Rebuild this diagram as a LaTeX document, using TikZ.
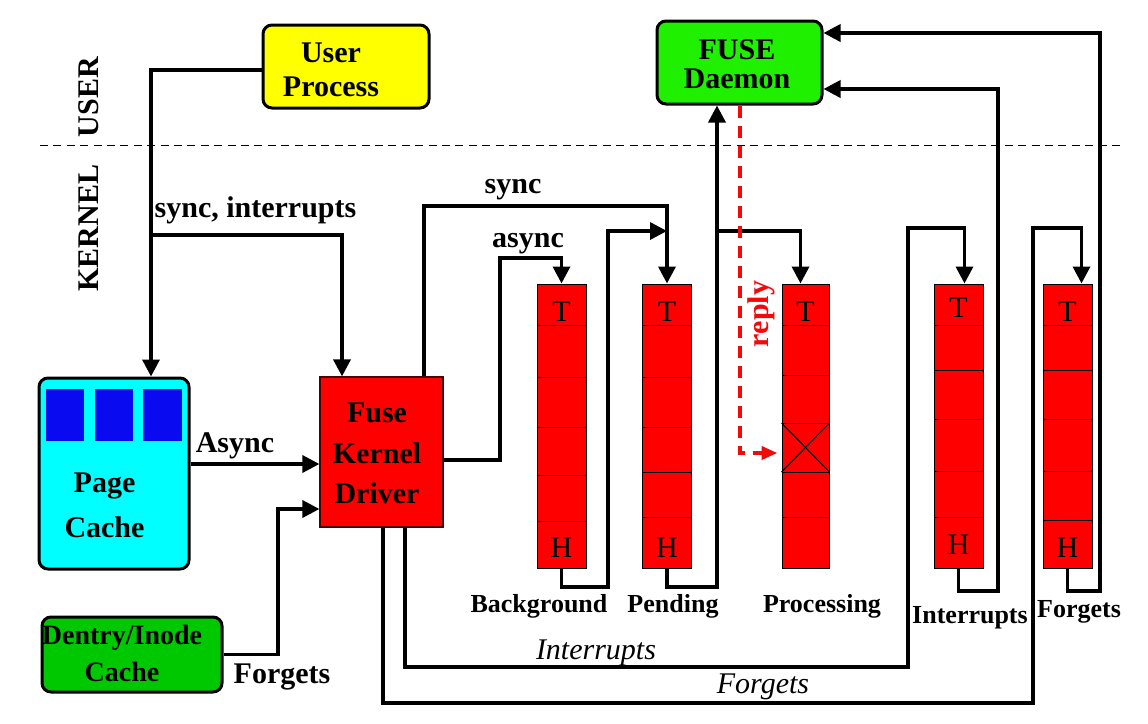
\documentclass[tikz,border=0pt]{standalone}
\usepackage{fontspec}
\setmainfont{Liberation Serif}
\usetikzlibrary{arrows.meta,calc}
\definecolor{uyellow}{RGB}{255,255,0}
\definecolor{fgreen}{RGB}{30,240,0}
\definecolor{dgreen}{RGB}{0,200,0}
\definecolor{pcyan}{RGB}{0,255,255}
\definecolor{pblue}{RGB}{10,10,240}
\definecolor{qred}{RGB}{255,0,0}
\definecolor{rred}{RGB}{240,10,10}
\begin{document}
\begin{tikzpicture}[x=0.5pt,y=-0.5pt,
  conn/.style={line width=1.75pt,-{Triangle[length=8.5pt,width=8.5pt]}},
  replyline/.style={draw=rred,line width=2pt,dash pattern=on 6pt off 4pt,-{Triangle[length=8pt,width=6.5pt]}},
  rbox/.style={draw=black,line width=1.5pt,rounded corners=4.5pt,inner sep=0pt},
  queue/.style={draw=black,line width=0.5pt,fill=qred,minimum width=24.5pt,minimum height=142pt,inner sep=0pt},
  cell/.style={line width=0.5pt},
  lab/.style={font=\bfseries\fontsize{15}{17}\selectfont,inner sep=0pt},
  slab/.style={font=\bfseries\fontsize{13}{15}\selectfont,inner sep=0pt},
  ilab/.style={font=\itshape\fontsize{15}{17}\selectfont,inner sep=0pt},
  qlab/.style={font=\fontsize{15}{17}\selectfont,inner sep=0pt},
]
\useasboundingbox (0,0) rectangle (1148,724);

% separator
\coordinate (sepL) at (40,145);
\coordinate (sepR) at (1120,145);
\draw[line width=0.5pt,dash pattern=on 4pt off 2.7pt] (sepL) -- (sepR);
\node[lab,rotate=90] (luser) at (88.5,97) {USER};
\node[lab,rotate=90] (lkernel) at (89,228) {KERNEL};

% boxes
\node[rbox,fill=uyellow,minimum width=83pt,minimum height=41.5pt] (user) at (346,66.5) {};
\node[lab,align=center,font=\bfseries\fontsize{15}{17}\selectfont] (usertxt) at (331,70) {User\\Process};

\node[rbox,fill=fgreen,minimum width=82.5pt,minimum height=41.5pt] (fuse) at (739.5,62.5) {};
\node[lab,align=center,font=\bfseries\fontsize{15}{14.7}\selectfont] (fusetxt) at (737,64) {FUSE\\Daemon};

\node[rbox,fill=pcyan,minimum width=75pt,minimum height=95.5pt] (pc) at (114,473.5) {};
\node[fill=pblue,minimum width=19pt,minimum height=26pt,inner sep=0pt] (pb1) at (65,415) {};
\node[fill=pblue,minimum width=19pt,minimum height=26pt,inner sep=0pt] (pb2) at (114,415) {};
\node[fill=pblue,minimum width=19.5pt,minimum height=26pt,inner sep=0pt] (pb3) at (162.5,415) {};
\node[lab,align=center,font=\bfseries\fontsize{15}{22.5}\selectfont] (pctxt) at (104.5,505.5) {Page\\Cache};

\node[draw=black!70!red,line width=0.6pt,fill=qred,minimum width=61.5pt,minimum height=75pt,inner sep=0pt] (drv) at (381.5,452) {};
\node[lab,align=center,font=\bfseries\fontsize{15}{20.25}\selectfont] (drvtxt) at (377,453.5) {Fuse\\Kernel\\Driver};

\node[rbox,fill=dgreen,minimum width=90pt,minimum height=37.5pt] (dc) at (132,654.5) {};
\node[lab,align=center,font=\bfseries\fontsize{14}{18.5}\selectfont] (dctxt) at (122,653.5) {Dentry/Inode\\Cache};

% queues
\node[queue] (bg) at (561.5,426) {};
\node[queue] (pend) at (667,426) {};
\node[queue,minimum width=23.5pt] (proc) at (805.5,426) {};
\node[queue] (intr) at (958.5,426) {};
\node[queue] (forg) at (1067.5,426) {};
\foreach \yy in {325,377,427,475,521} \draw[cell] (bg.west |- 0,\yy) -- (bg.east |- 0,\yy);
\foreach \yy in {325,377,427,472,517} \draw[cell] (pend.west |- 0,\yy) -- (pend.east |- 0,\yy);
\foreach \yy in {325,375,423,472,517} \draw[cell] (proc.west |- 0,\yy) -- (proc.east |- 0,\yy);
\foreach \yy in {325,370,419,471,517} \draw[cell] (intr.west |- 0,\yy) -- (intr.east |- 0,\yy);
\foreach \yy in {325,370,419,471,520} \draw[cell] (forg.west |- 0,\yy) -- (forg.east |- 0,\yy);
\draw[cell] (proc.west |- 0,423) -- (proc.east |- 0,472);
\draw[cell] (proc.west |- 0,472) -- (proc.east |- 0,423);

\node[qlab] (bgT) at (561.5,312) {T};
\node[qlab] (bgH) at (561.5,548) {H};
\node[qlab] (pendT) at (667,312) {T};
\node[qlab] (pendH) at (667,548) {H};
\node[qlab] (procT) at (805.5,312) {T};
\node[qlab] (intrT) at (958.5,308) {T};
\node[qlab] (intrH) at (958.5,545) {H};
\node[qlab] (forgT) at (1067.5,312) {T};
\node[qlab] (forgH) at (1067.5,548) {H};

% queue labels
\node[slab,anchor=base] (lbg) at (539,612) {Background};
\node[slab,anchor=base] (lpend) at (673,612) {Pending};
\node[slab,anchor=base] (lproc) at (822,612) {Processing};
\node[slab,anchor=base] (lintr) at (970,623) {Interrupts};
\node[slab,anchor=base] (lforg) at (1079,617) {Forgets};

% connectors
\coordinate (j1) at (151,235);
\draw[conn] (user.west |- 0,70) -| (pc.north -| j1);
\draw[conn] (j1) -| ($(drv.north)+(-39.5,0)$);
\node[lab,anchor=base] (lsi) at (255.5,217) {sync, interrupts};

\draw[conn] (pc.east |- 0,464) -- (drv.west |- 0,464);
\node[lab,anchor=base] (lAsync) at (235,452) {Async};

\draw[conn] (dc.east) -| (278,509) -- (drv.west |- 0,509);
\node[lab,anchor=base] (lForg1) at (282,683) {Forgets};

\draw[conn] (drv.north -| 424,0) |- (pend.north |- 0,206) -- (pend.north);
\node[lab,anchor=base] (lsync) at (513,193) {sync};

\draw[conn] (drv.east |- 0,460) -| (500,258) -| (bg.north);
\node[lab,anchor=base] (lasync) at (528,247) {async};

\draw[conn] (bg.south) |- (608,587) |- (pend.north |- 0,231);

\coordinate (j2) at (717,231);
\draw[conn] (pend.south) |- (717,587) -- (fuse.south -| 717,0);
\draw[conn] (j2) -| ($(proc.north)+(-5,0)$);

\draw[replyline] (fuse.south -| 740,0) |- ($(proc.west |- 0,453)+(-4,0)$);
\node[lab,text=rred,rotate=90] (lreply) at (761,314) {reply};

\draw[conn] (drv.south -| 405,0) |- (908,667) -- (908,228) -| ($(intr.north)+(6,0)$);
\node[ilab,anchor=base] (lint2) at (596,659) {Interrupts};

\draw[conn] (drv.south -| 383,0) |- (1033,703) -- (1033,228) -| ($(forg.north)+(14,0)$);
\node[ilab,anchor=base] (lforg2) at (763,693) {Forgets};

\draw[conn] (intr.south) |- (998,591) |- (fuse.east |- 0,89);
\draw[conn] (forg.south) |- (1100,591) |- (fuse.east |- 0,33);
\end{tikzpicture}
\end{document}
